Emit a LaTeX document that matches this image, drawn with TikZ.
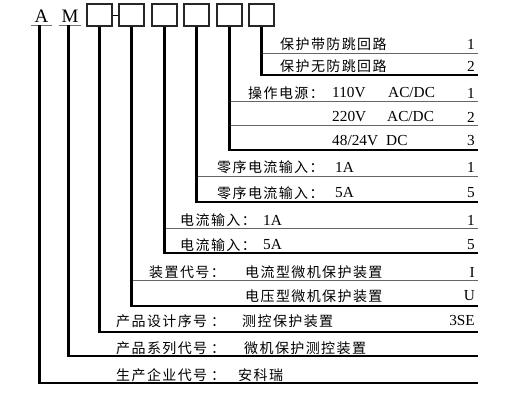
\documentclass[tikz,border=0pt]{standalone}
\usepackage{fontspec}
\setmainfont{Liberation Serif}
\newfontfamily\cjk[LetterSpace=10]{Noto Sans CJK SC}
\begin{document}
\begin{tikzpicture}[x=1pt,y=-1pt,
  box/.style={draw=black!85,line width=1.2pt,minimum width=25pt,minimum height=22pt,inner sep=0pt},
  big/.style={font=\fontsize{19}{19}\selectfont,minimum width=21pt,minimum height=18pt,inner sep=0pt},
  uline/.style={draw=black!55,line width=0.9pt},
  thk/.style={line width=2.6pt,black},
  thn/.style={line width=1pt,black!60},
  link/.style={line width=1pt,black},
  lbl/.style={anchor=west,inner sep=0pt,font=\cjk\fontsize{14}{14}\selectfont},
  val/.style={anchor=west,inner sep=0pt,font=\fontsize{15.3}{15.3}\selectfont},
  num/.style={anchor=east,inner sep=0pt,font=\fontsize{15.3}{15.3}\selectfont}]
\useasboundingbox (0,0) rectangle (530,405);
\fill[white] (0,0) rectangle (530,405);

% code letters and boxes
\node[big] (A) at (41.5,16) {A};
\node[big] (M) at (70,16) {M};
\draw[uline] (A.south west) -- (A.south east);
\draw[uline] (M.south west) -- (M.south east);
\node[box] (b1) at (99.5,15) {};
\node[box] (b2) at (131.5,15) {};
\node[box] (b3) at (164.5,15) {};
\node[box] (b4) at (196.5,15) {};
\node[box] (b5) at (229.5,15) {};
\node[box] (b6) at (261.5,15) {};
\draw[link] (b1) -- (b2);

% line ends
\coordinate (e6) at (478,75);
\coordinate (e5) at (478,150);
\coordinate (e4) at (478,202);
\coordinate (e3) at (478,253);
\coordinate (e2) at (478,306);
\coordinate (e1) at (478,332);
\coordinate (eM) at (478,356);
\coordinate (eA) at (478,383);
\coordinate (t6) at (478,53);
\coordinate (t5a) at (478,101);
\coordinate (t5b) at (478,125);
\coordinate (t4) at (478,176);
\coordinate (t3) at (478,228);
\coordinate (t2) at (478,280);

% thin separators
\draw[thn] (t6 -| b6.south) -- (t6);
\draw[thn] (t5a -| b5.south) -- (t5a);
\draw[thn] (t5b -| b5.south) -- (t5b);
\draw[thn] (t4 -| b4.south) -- (t4);
\draw[thn] (t3 -| b3.south) -- (t3);
\draw[thn] (t2 -| b2.south) -- (t2);

% thick leaders
\draw[thk] (b6.south) |- (e6);
\draw[thk] (b5.south) |- (e5);
\draw[thk] (b4.south) |- (e4);
\draw[thk] (b3.south) |- (e3);
\draw[thk] (b2.south) |- (e2);
\draw[thk] (b1.south) |- (e1);
\draw[thk] ([xshift=-1.5pt]M.south) |- (eM);
\draw[thk] ([xshift=-2pt]A.south) |- (eA);

% box 6
\node[lbl] (l61) at (280,44) {保护带防跳回路};
\node[num] (n61) at (475,44) {1};
\node[lbl] (l62) at (280,66) {保护无防跳回路};
\node[num] (n62) at (475,66) {2};

% box 5
\node[lbl] (l51) at (248,93) {操作电源：};
\node[val] (v51) at (332,93) {110V};
\node[val] (w51) at (388,93) {AC/DC};
\node[num] (n51) at (475,93) {1};
\node[val] (v52) at (332,117) {220V};
\node[val] (w52) at (387,117) {AC/DC};
\node[num] (n52) at (475,117) {2};
\node[val] (v53) at (332,141) {48/24V};
\node[val] (w53) at (386,141) {DC};
\node[num] (n53) at (475,141) {3};

% box 4
\node[lbl] (l41) at (217,167) {零序电流输入：};
\node[val] (v41) at (335,167) {1A};
\node[num] (n41) at (475,167) {1};
\node[lbl] (l42) at (217,193) {零序电流输入：};
\node[val] (v42) at (335,193) {5A};
\node[num] (n42) at (475,193) {5};

% box 3
\node[lbl] (l31) at (180,220) {电流输入：};
\node[val] (v31) at (263,220) {1A};
\node[num] (n31) at (475,220) {1};
\node[lbl] (l32) at (180,245) {电流输入：};
\node[val] (v32) at (263,245) {5A};
\node[num] (n32) at (475,245) {5};

% box 2
\node[lbl] (l21) at (149,272) {装置代号：};
\node[lbl] (d21) at (245,272) {电流型微机保护装置};
\node[num] (n21) at (475,272) {I};
\node[lbl] (d22) at (245,296) {电压型微机保护装置};
\node[num] (n22) at (475,296) {U};

% box 1
\node[lbl] (l11) at (116,321) {产品设计序号\hspace{4pt}：};
\node[lbl] (d11) at (242,321) {测控保护装置};
\node[num] (n11) at (475,321) {3SE};

% M
\node[lbl] (lM) at (116,348) {产品系列代号\hspace{4pt}：};
\node[lbl] (dM) at (244,348) {微机保护测控装置};

% A
\node[lbl] (lA) at (116,375) {生产企业代号\hspace{4pt}：};
\node[lbl] (dA) at (238,375) {安科瑞};
\end{tikzpicture}
\end{document}
